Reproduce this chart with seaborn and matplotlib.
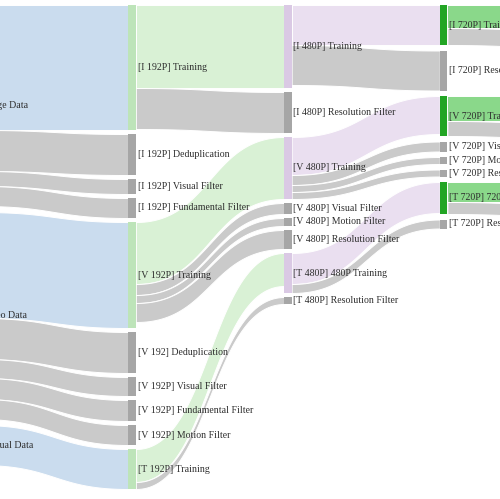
import numpy as np
import matplotlib
matplotlib.use("Agg")
import matplotlib.pyplot as plt
import seaborn as sns

# ---------------- data (flows) ----------------
link_source = [
    "Image Data", "Image Data", "Image Data", "Image Data",
    "Video Data", "Video Data", "Video Data", "Video Data", "Video Data",
    "Textual Data",
    "[I 192P] Training", "[I 192P] Training",
    "[V 192P] Training", "[V 192P] Training", "[V 192P] Training", "[V 192P] Training",
    "[T 192P] Training", "[T 192P] Training",
    "[I 480P] Training", "[I 480P] Training",
    "[V 480P] Training", "[V 480P] Training", "[V 480P] Training", "[V 480P] Training",
    "[T 480P] 480P Training", "[T 480P] 480P Training",
    "[I 720P] Training", "[I 720P] Training",
    "[V 720P] Training", "[V 720P] Training",
    "[T 720P] 720P Training", "[T 720P] 720P Training",
]
link_target = [
    "[I 192P] Training", "[I 192P] Deduplication", "[I 192P] Visual Filter", "[I 192P] Fundamental Filter",
    "[V 192P] Training", "[V 192] Deduplication", "[V 192P] Visual Filter", "[V 192P] Fundamental Filter",
    "[V 192P] Motion Filter",
    "[T 192P] Training",
    "[I 480P] Training", "[I 480P] Resolution Filter",
    "[V 480P] Training", "[V 480P] Visual Filter", "[V 480P] Motion Filter", "[V 480P] Resolution Filter",
    "[T 480P] 480P Training", "[T 480P] Resolution Filter",
    "[I 720P] Training", "[I 720P] Resolution Filter",
    "[V 720P] Training", "[V 720P] Visual Filter", "[V 720P] Motion Filter", "[V 720P] Resolution Filter",
    "[T 720P] 720P Training", "[T 720P] Resolution Filter",
    "[I 1080P] Training", "[I 1080P] Resolution Filter",
    "[V 1080P] Training", "[V 1080P] Resolution Filter",
    "[T 1080P] 1080P Training", "[T 1080P] Resolution Filter",
]
link_value = [
    125, 41, 15, 20,
    106, 41, 19, 21, 20,
    40,
    83, 41,
    62, 11, 8, 19,
    33, 7,
    40, 40,
    38, 10, 7, 7,
    31, 9,
    23, 17,
    25, 15,
    20, 12,
]

# ---------------- style / layout ----------------
sns.set_theme(style="white")
plt.rcParams["font.family"] = ["Liberation Serif", "DejaVu Serif"]

W, H = 500, 499
col_left0 = -27.6      # left edge of first node column (px)
col_step = 155.8       # distance between node columns (px)
node_w = 7.6
top = 5.0
col_pad = {0: 6.0, 1: 4.0, 2: 4.0, 3: 5.5, 4: 4.0}

train_node_col = {0: "#a9c6e6", 1: "#bde4b9", 2: "#dac9e4", 3: "#22a524", 4: "#22a524"}
train_link_col = {0: "#cadcee", 1: "#d9f1d5", 2: "#eadff0", 3: "#8ad88a"}
gray_node = "#a6a6a6"
gray_link = "#cacaca"

# ---------------- sankey layout ----------------
order = []
for s, t in zip(link_source, link_target):
    order += [s, t]
names = list(dict.fromkeys(order))
col = {n: 0 for n in names}
for _ in range(len(names)):
    for s, t in zip(link_source, link_target):
        col[t] = max(col[t], col[s] + 1)
inflow = {n: 0 for n in names}
outflow = {n: 0 for n in names}
for s, t, v in zip(link_source, link_target, link_value):
    outflow[s] += v
    inflow[t] += v
size = {n: max(inflow[n], outflow[n]) for n in names}

def is_train(n):
    return ("Training" in n) or ("Data" in n)

ypos = {}
ncols = max(col.values()) + 1
for c in range(ncols - 1):
    y = top
    for n in [m for m in names if col[m] == c]:
        ypos[n] = y
        y += size[n] + col_pad[c]

# source offsets
out_ptr = {n: ypos.get(n, 0) for n in names}
src_y = []
for s, t, v in zip(link_source, link_target, link_value):
    src_y.append(out_ptr[s])
    out_ptr[s] += v

# last column: aligned with incoming link, then collisions resolved
last = [m for m in names if col[m] == ncols - 1]
prev_bottom = -np.inf
for n in last:
    i = link_target.index(n)
    y = max(src_y[i], prev_bottom + col_pad[ncols - 1])
    ypos[n] = y
    prev_bottom = y + size[n]

in_ptr = {n: ypos[n] for n in names}
tgt_y = []
for s, t, v in zip(link_source, link_target, link_value):
    tgt_y.append(in_ptr[t])
    in_ptr[t] += v

def xleft(n):
    return col_left0 + col[n] * col_step

# ---------------- draw ----------------
fig = plt.figure(figsize=(W / 100, H / 100), dpi=100)
ax = fig.add_axes([0, 0, 1, 1])
ax.set_xlim(0, W)
ax.set_ylim(H, 0)
ax.axis("off")

tt = np.linspace(0, 1, 80)
for s, t, v, ys, yt in zip(link_source, link_target, link_value, src_y, tgt_y):
    x0 = xleft(s) + node_w
    x1 = xleft(t)
    xm = (x0 + x1) / 2
    xs = (1 - tt) ** 3 * x0 + 3 * (1 - tt) ** 2 * tt * xm + 3 * (1 - tt) * tt ** 2 * xm + tt ** 3 * x1
    f = 3 * tt ** 2 - 2 * tt ** 3
    ytop = ys + (yt - ys) * f
    color = train_link_col[col[s]] if is_train(t) else gray_link
    ax.fill_between(xs, ytop, ytop + v, facecolor=color, edgecolor="white", linewidth=0.7, zorder=1)

for n in names:
    color = train_node_col[col[n]] if is_train(n) else gray_node
    ax.bar(xleft(n), size[n], bottom=ypos[n], width=node_w, align="edge",
           color=color, edgecolor="none", linewidth=0, zorder=2)
    ax.text(xleft(n) + node_w + 1.8, ypos[n] + size[n] / 2, n, ha="left", va="center",
            fontsize=7.1, color="#2e2e2e", zorder=3)

fig.savefig("out.png", dpi=100, facecolor="white")
